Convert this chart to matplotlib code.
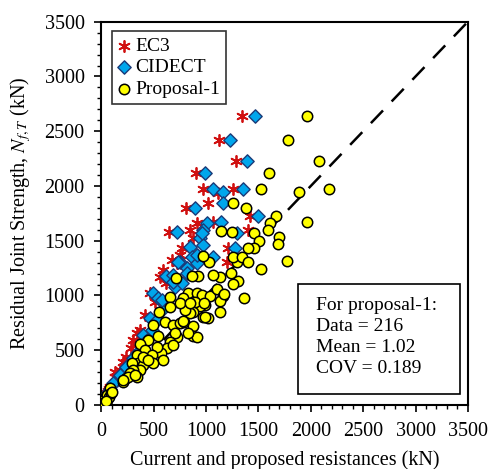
import matplotlib
matplotlib.use("Agg")
from matplotlib import pyplot as plt
from matplotlib.patches import Rectangle
from matplotlib.ticker import MultipleLocator

# EC3 predictions (x) against residual joint strength (y), kN
ec3_x = [1339, 1122, 1282, 903, 966, 1116, 1259, 1020, 807, 1418, 909, 1068, 645, 845,
         877, 766, 670, 1212, 1196, 1403, 559, 463, 416, 336, 240, 176, 81, 750, 591, 285,
         126, 368, 511, 304, 209, 129, 622, 718,
         20, 30, 45, 25, 55, 40, 60, 15, 35, 70, 50, 10, 28]
ec3_y = [2639, 2420, 2231, 2122, 1976, 1939, 1969, 1848, 1796, 1726, 1665, 1671, 1580, 1598,
         1522, 1431, 1324, 1431, 1309, 1598, 1172, 1020, 822, 654, 441, 320, 167, 1370, 1233, 517,
         304, 685, 944, 594, 396, 259, 1111, 1294,
         40, 55, 90, 30, 110, 70, 130, 20, 60, 150, 100, 15, 45]

# CIDECT predictions
cid_x = [1466, 1227, 1387, 989, 1068, 1164, 1355, 1164, 893, 1498, 1005, 1138, 973, 941,
         718, 1291, 973, 845, 1275, 750, 861, 909, 814, 1068, 616, 702, 766, 495, 543, 686,
         622, 575, 463, 400, 368, 272, 209, 145, 909, 814, 957, 730, 686, 575, 479, 336,
         304, 432, 527, 240, 176, 113,
         25, 35, 50, 30, 60, 45, 70, 20, 40, 80, 55, 15]
cid_y = [2639, 2420, 2231, 2122, 1976, 1948, 1969, 1848, 1796, 1726, 1665, 1671, 1598, 1522,
         1580, 1568, 1461, 1440, 1431, 1309, 1355, 1294, 1248, 1355, 1178, 1081, 1111, 1020, 974, 1187,
         928, 868, 791, 639, 502, 381, 289, 228, 1370, 1202, 1568, 1309, 1126, 959, 685, 472,
         426, 594, 776, 350, 274, 198,
         40, 55, 90, 30, 110, 70, 130, 20, 60, 150, 100, 15]

# Proposal-1 predictions
prop_x = [1966, 1781, 2081, 2170, 1890, 1966,
          1141, 1243, 1259, 1377, 1520, 1600, 1667, 1610, 1594, 1695, 1683, 1460, 1508, 1460,
          1396, 1769, 1524, 1291, 1259, 1339, 1396, 1237, 1307, 1259, 1364, 1132, 1068, 1027,
          973, 925, 861, 712, 829, 782, 909, 957, 1036, 1100, 1164, 1132, 1132, 1020, 973,
          989, 941, 893, 877, 845, 798, 750, 654, 654, 549, 607, 686, 750, 788, 877, 877,
          915, 829, 724, 702, 654, 629, 565, 527, 543, 495, 447, 368, 416, 336, 352, 288,
          479, 591, 495, 400, 368, 304, 272, 336, 240, 209, 81, 400, 979, 1173, 782, 989,
          256, 320, 209, 686, 446, 845,
          30, 40, 50, 25, 60, 45, 70, 35, 55, 20, 80, 65, 40, 30, 50, 75, 90, 15, 100, 45]
prop_y = [2639, 2420, 2231, 1969, 1948, 1671,
          1592, 1583, 1848, 1802, 1976, 2122, 1726, 1665, 1598, 1537, 1470, 1568, 1501, 1431,
          1431, 1315, 1239, 1309, 1355, 1349, 1303, 1208, 1132, 1102, 980, 1172, 1187, 1309,
          1361, 1178, 1178, 1163, 1020, 980, 1020, 1005, 998, 1059, 998, 950, 846, 798, 807,
          913, 904, 944, 852, 843, 868, 928, 989, 898, 852, 761, 731, 746, 761, 721, 630,
          624, 654, 624, 654, 578, 517, 472, 533, 630, 731, 594, 554, 502, 457, 381, 381,
          457, 411, 381, 365, 320, 320, 289, 259, 244, 213, 152, 441, 928, 1014, 767, 801,
          259, 274, 228, 548, 411, 928,
          40, 55, 60, 30, 70, 80, 90, 45, 50, 25, 100, 60, 30, 50, 90, 75, 110, 20, 120, 40]

plt.rcParams['font.family'] = ['Liberation Serif', 'DejaVu Serif']
plt.rcParams['mathtext.fontset'] = 'stix'

fig = plt.figure(figsize=(4.92, 4.69), dpi=100)
ax = fig.add_axes([0.206, 0.1365, 0.745, 0.8172])

ax.plot([0, 3500], [0, 3500], color='black', linestyle=(0, (7, 5)), linewidth=1.8, zorder=1)

ax.scatter(ec3_x, ec3_y, marker=(6, 2, 0), s=64, color='#D01010', linewidths=1.3,
           label='EC3', zorder=2)
ax.scatter(cid_x, cid_y, marker='D', s=46, facecolor='#00A6EC', edgecolor='#1A3A78',
           linewidths=1.0, label='CIDECT', zorder=3)
ax.scatter(prop_x, prop_y, marker='o', s=56, facecolor='#FFFF00', edgecolor='black',
           linewidths=1.1, label='Proposal-1', zorder=4)

ax.set_xlim(0, 3500)
ax.set_ylim(0, 3500)
ax.xaxis.set_major_locator(MultipleLocator(500))
ax.yaxis.set_major_locator(MultipleLocator(500))
ax.xaxis.set_minor_locator(MultipleLocator(100))
ax.yaxis.set_minor_locator(MultipleLocator(100))
ax.tick_params(which='major', direction='out', length=5, width=1.2, labelsize=14.5, pad=7)
ax.tick_params(which='minor', direction='out', length=3, width=1.0)
for side in ax.spines.values():
    side.set_linewidth(1.5)

ax.set_xlabel('Current and proposed resistances (kN)', fontsize=14.5, labelpad=7)
ax.set_ylabel('Residual Joint Strength, $N_{f,T}$ (kN)', fontsize=14.5, labelpad=8)

leg = ax.legend(loc='upper left', bbox_to_anchor=(0.03, 0.975), fontsize=14, frameon=True,
                fancybox=False, edgecolor='black', handlelength=0.6, handletextpad=0.3,
                borderpad=0.3, labelspacing=0.2, borderaxespad=0)
leg.get_frame().set_linewidth(1.2)

ax.add_patch(Rectangle((0.536, 0.029), 0.442, 0.287, transform=ax.transAxes,
                       facecolor='white', edgecolor='black', linewidth=1.2, zorder=5))
ax.text(0.585, 0.282, 'For proposal-1:\nData = 216\nMean = 1.02\nCOV = 0.189',
        transform=ax.transAxes, fontsize=14, va='top', ha='left', linespacing=1.3, zorder=6)

fig.savefig('out.png', dpi=100)
